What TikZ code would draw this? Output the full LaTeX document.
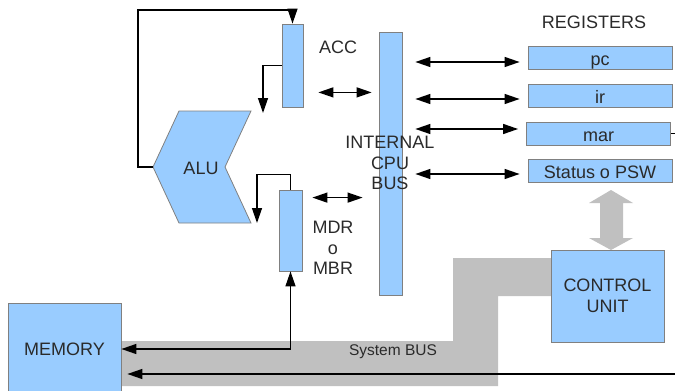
\documentclass[tikz,border=0pt]{standalone}
\usepackage{fontspec}
\setmainfont{Liberation Sans}
\usetikzlibrary{arrows.meta,calc}
\definecolor{boxblue}{HTML}{99CCFF}
\definecolor{boxedge}{HTML}{808080}
\definecolor{busgray}{HTML}{C0C0C0}
\definecolor{inkgray}{HTML}{2A2A2A}

\begin{document}
\begin{tikzpicture}[x=1pt,y=-1pt]
% This determines how the boxes, texts and arrows will look.
\tikzstyle{unit}=[draw=boxedge,fill=boxblue,line width=0.8pt,inner sep=0pt,text=inkgray,font=\fontsize{18}{20.5}\selectfont]
\tikzstyle{reg}=[unit,minimum width=144pt,minimum height=23pt,text height=17pt,text depth=2pt]
\tikzstyle{txt}=[text=inkgray,inner sep=0pt,align=center,font=\fontsize{18}{20.5}\selectfont]
\tikzstyle{wire}=[line width=1.3pt,-{Triangle[length=15pt,width=10pt]}]
\tikzstyle{twoway}=[line width=1.3pt,{Triangle[length=15pt,width=10pt]}-{Triangle[length=15pt,width=10pt]}]

\useasboundingbox (0,0) rectangle (675,391);

% This draws the system bus and the link to the control unit.
\fill[busgray] (121,341) -- (453,341) -- (453,258) -- (551,258) -- (551,296) -- (498,296) -- (498,386) -- (121,386) -- cycle;
\fill[busgray] (611,190) -- (633,203) -- (623,203) -- (623,238) -- (633,238) -- (611,250) -- (589,238) -- (600,238) -- (600,203) -- (589,203) -- cycle;
\node[text=inkgray,font=\fontsize{15.5}{18}\selectfont] (sysbus) at (393,352) {System BUS};

% This draws the ALU.
\coordinate (alu tip) at (153,167);
\filldraw[fill=boxblue,draw=boxedge,line width=0.8pt] (alu tip) -- (179,111) -- (251,111) -- (225,167) -- (251,223) -- (179,223) -- cycle;
\node[txt] (alu) at (201,168) {ALU};

% This draws ACC, MDR and the internal bus.
\node[unit,minimum width=21pt,minimum height=83pt] (acc) at (292.5,65.5) {};
\node[txt] (acclab) at (338,47) {ACC};
\node[unit,minimum width=23pt,minimum height=81pt] (mdr) at (290.5,230.5) {};
\node[txt] (mdrlab) at (333,248) {MDR\\o\\MBR};
\node[unit,minimum width=23pt,minimum height=263pt] (bus) at (390.5,163.5) {};
\node[txt] (buslab) at (390,163) {INTERNAL\\CPU\\BUS};

% This draws the registers.
\node[txt] (reglab) at (594,22) {REGISTERS};
\node[reg] (pc) at (600,58) {pc};
\node[reg] (ir) at (600,95.5) {ir};
\node[reg] (mar) at (598.5,133.5) {mar};
\node[reg] (psw) at (600,170.5) {Status o PSW};

% This draws the control unit and the memory.
\node[unit,minimum width=113pt,minimum height=92pt,align=center] (cu) at (607.5,296) {CONTROL\\UNIT};
\node[unit,minimum width=113pt,minimum height=92pt] (mem) at (64.5,349) {MEMORY};

% This draws the paths around the ALU.
\coordinate (loop) at (138,10);
\draw[wire] (alu tip) -| (loop) -| (acc.north);
\coordinate (alu in1) at (263,113);
\draw[wire] (acc.west) -| (alu in1);
\coordinate (alu in2) at (257,223);
\draw[wire] (mdr.north) -- ++(0,-15) -| (alu in2);

% This draws the links to the internal bus.
\coordinate (acc io) at ([yshift=15pt]acc.south east);
\draw[twoway,shorten <=15pt,shorten >=7pt] (acc io) -- (acc io -| bus.west);
\coordinate (mdr io) at ([yshift=-8pt]mdr.north east);
\draw[twoway,shorten <=10pt,shorten >=16pt] (mdr io) -- (mdr io -| bus.west);
\foreach \r/\dy in {pc/-4,ir/-3.5,mar/4.5,psw/-3.5}{
  \coordinate (\r io) at ([yshift=\dy pt]\r.west);
  \draw[twoway,shorten <=13pt,shorten >=8pt] (\r io -| bus.east) -- (\r io);
}

% This draws the memory lines.
\draw[twoway] (mem.east) -| (mdr.south);
\coordinate (edge low) at (675,374);
\draw[wire,shorten >=6pt] (edge low) -- (edge low -| mem.east);
\coordinate (edge mar) at (675,133.5);
\draw[line width=1pt] (mar.east) -- (edge mar);
\end{tikzpicture}
\end{document}
